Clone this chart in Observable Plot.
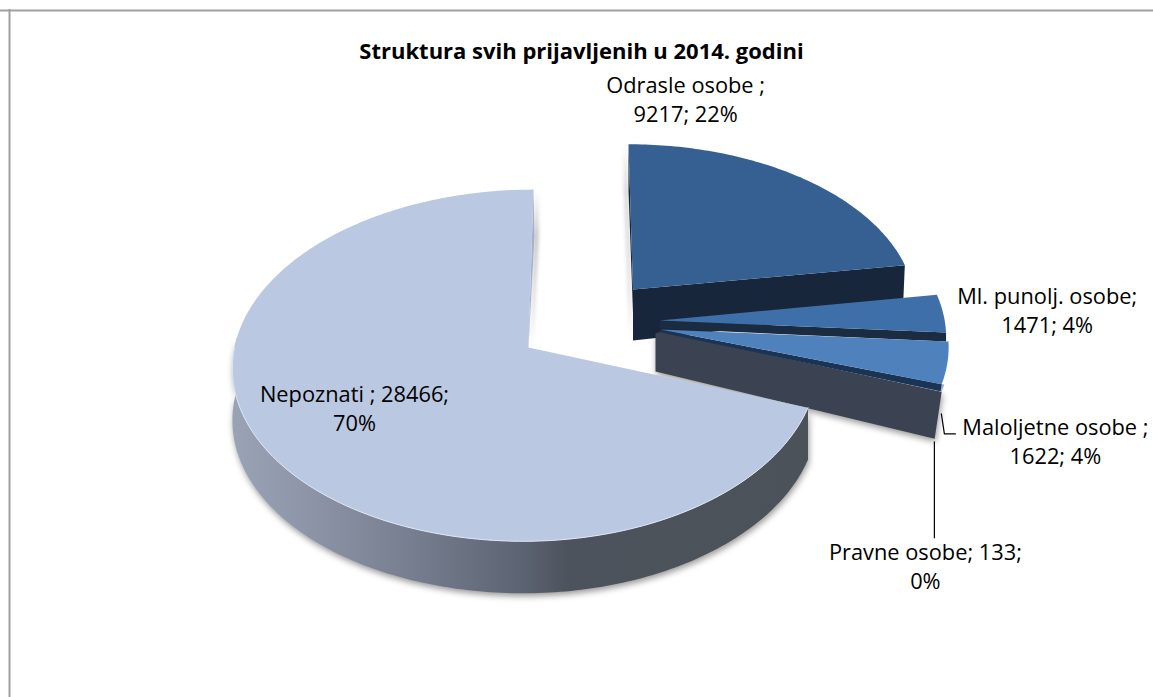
<!DOCTYPE html>
<html>
<head>
<meta charset="utf-8">
<script src="https://cdn.jsdelivr.net/npm/d3@7"></script>
<script src="https://cdn.jsdelivr.net/npm/@observablehq/plot@0.6"></script>
<style>html,body{margin:0;padding:0;background:#fff}svg{display:block}</style>
</head>
<body>
<div id="chart"></div>
<script>
const titleText = "Struktura svih prijavljenih u 2014. godini";
const categories = ["Odrasle osobe ", "Ml. punolj. osobe", "Maloljetne osobe ", "Pravne osobe", "Nepoznati "];
const values = [9217, 1471, 1622, 133, 28466];
const percents = [22, 4, 4, 0, 70];
const breakBeforePercent = [false, false, false, true, true];

const W = 1153, H = 697;
const FONT = "'Open Sans', 'Noto Sans', sans-serif";
// projection of the pie disc
const R = 294, S = 174, P = 0.102;
// per slice style: apex, scale, skew, wall depths, fills, label offset from rim
const sliceStyle = [
  {ax:632.5, ay:289, sx:.953, sxR:1, sy:.92, skew:4.5, top:"#366092", wall:"#17263b", dA:51, dR:46, rdx:-2, aox:0, aoy:0, lab:[-113,-76.5]},
  {ax:659, ay:320, sx:.97, sxR:1, sy:.97, skew:0, top:"#3f6fa8", wall:"#1a2b42", dA:8, dR:9, rdx:0, aox:0, aoy:0, lab:[104,-2]},
  {ax:660, ay:329, sx:.975, sxR:1, sy:.97, skew:0, top:"#4f81bd", wall:"#1c3454", dA:3, dR:7, rdx:-1, aox:0, aoy:0, lab:[108,80]},
  {ax:660, ay:331, sx:.98, sxR:1, sy:1, skew:0, top:"#95b3d7", wall:"#3b4252", dA:38, dR:47, rdx:-7, aox:-5, aoy:2, lab:[-17,178]},
  {ax:528, ay:347, sx:1, sxR:.98, sy:1, skew:-5, top:"#bac8e1", wall:"url(#sideGrad)", dA:46, dR:52, rdx:-1, aox:0, aoy:0, lab:[84,-45]}
];

const total = d3.sum(values);
const cum = d3.cumsum(values);
const slices = values.map((v, i) => {
  const a1 = cum[i] / total * 2 * Math.PI;
  const a0 = a1 - v / total * 2 * Math.PI;
  return {...sliceStyle[i], a0, a1, mid: (a0 + a1) / 2};
});

function proj(s, a, dy = 0) {
  const u = Math.sin(a), v = -Math.cos(a), w = 1 - P * v;
  return {x: s.ax + s.sx * (u > 0 ? s.sxR : 1) * R * u / w + s.skew * v, y: s.ay + s.sy * S * v / w + dy};
}
const apex = s => ({x: s.ax, y: s.ay});
function arc(s, a0, a1, dy = 0) {
  const n = Math.max(2, Math.ceil(Math.abs(a1 - a0) * 60));
  return d3.range(n + 1).map(k => proj(s, a0 + (a1 - a0) * k / n, dy));
}
const shift = (p, dx, dy) => ({x: p.x + dx, y: p.y + dy});
const poly = (pts, fill, extra = {}) => Plot.line(pts, {x: "x", y: "y", fill, stroke: "none", curve: "linear", ...extra});

const shadowDown = "drop-shadow(1px 3px 3px rgba(0,0,0,.4))";

function sliceMarks(s) {
  const a = apex(s), rim = proj(s, s.a1);
  const A = shift(a, s.aox, s.aoy);
  return [
    poly([A, rim, shift(rim, s.rdx, s.dR), shift(A, 0, s.dA)], s.wall),
    poly([a, ...arc(s, s.a0, s.a1)], s.top)
  ];
}

const [sO, sM, sL, sP, sN] = slices;
const oRim = proj(sO, 0);
const nRim = proj(sN, 2 * Math.PI);

// labels
const labelRows = slices.flatMap((s, i) => {
  const c = proj(s, s.mid);
  const line1 = breakBeforePercent[i] ? `${categories[i]}; ${values[i]};` : `${categories[i]};`;
  const line2 = breakBeforePercent[i] ? `${percents[i]}%` : `${values[i]}; ${percents[i]}%`;
  const x = c.x + s.lab[0], y = c.y + s.lab[1];
  return [{x, y: y - 14.5, t: line1}, {x, y: y + 14.5, t: line2}];
});

// leader lines, hung off the rim of their slices
const lRim = proj(sL, sL.mid), pRim = proj(sP, sP.mid);
const leaderL = [shift(lRim, -6, 51), shift(lRim, -3, 71), shift(lRim, 8, 71)];
const leaderP = [shift(pRim, -8, 52), shift(pRim, -8, 148)];

const defs = () => {
  const d = d3.create("svg:defs");
  const g = d.append("linearGradient").attr("id", "sideGrad")
    .attr("gradientUnits", "userSpaceOnUse").attr("x1", 233).attr("x2", 810).attr("y1", 0).attr("y2", 0);
  [[0, "#9aa3b6"], [.15, "#8b92a5"], [.3, "#787f90"], [.5, "#5c6372"], [.58, "#4d535c"], [1, "#4c5259"]]
    .forEach(([o, c]) => g.append("stop").attr("offset", o).attr("stop-color", c));
  return d.node();
};

const pA = shift(apex(sP), sP.aox, sP.aoy), pTip = proj(sP, sP.a1);

const plot = Plot.plot({
  width: W, height: H, margin: 0,
  style: {background: "#fff", fontFamily: FONT},
  x: {domain: [0, W], range: [0, W], axis: null},
  y: {domain: [0, H], range: [0, H], axis: null},
  marks: [
    defs,
    // chart border: top and left only reach the picture
    Plot.ruleY([10], {stroke: "#a0a0a0", strokeWidth: 2}),
    Plot.ruleX([9], {y1: 9, y2: H, stroke: "#a0a0a0", strokeWidth: 2}),

    // Odrasle
    poly([oRim, shift(oRim, 0, 46), shift(apex(sO), 1, 51), apex(sO)], "#17263b", {imageFilter: "drop-shadow(-3px 0 2px rgba(0,0,0,.5))"}),
    ...sliceMarks(sO),
    // Ml. punolj.
    ...sliceMarks(sM),
    // Pravne: its cut face is the large dark wall
    poly([pA, apex(sP), pTip, shift(pTip, sP.rdx, sP.dR), shift(pA, 0, sP.dA)], sP.wall, {imageFilter: shadowDown}),
    poly([apex(sP), ...arc(sP, sP.a0 - 0.02, sP.a1)], sP.top),
    // Maloljetne
    ...sliceMarks(sL),

    // leader lines
    Plot.line(leaderL, {x: "x", y: "y", stroke: "#000", strokeWidth: 1.2, curve: "linear"}),
    Plot.line(leaderP, {x: "x", y: "y", stroke: "#000", strokeWidth: 1.2, curve: "linear"}),

    // Nepoznati
    poly([nRim, shift(nRim, 1, 46), shift(apex(sN), 0, 0)], "#a4b2cd", {imageFilter: "drop-shadow(3px 1px 2px rgba(0,0,0,.45))"}),
    poly([...arc(sN, sN.a0, 1.52 * Math.PI), ...arc(sN, 1.52 * Math.PI, sN.a0, 52)], "url(#sideGrad)", {imageFilter: shadowDown}),
    poly([apex(sN), ...arc(sN, sN.a0, sN.a1)], sN.top),
    Plot.line(arc(sN, sN.a0, 1.5 * Math.PI), {x: "x", y: "y", stroke: "#dde6f6", strokeWidth: 1, curve: "linear"}),

    // text
    Plot.text([titleText], {x: [581], y: [51], text: d => d, fontSize: 22, fontWeight: 700, fill: "#000"}),
    Plot.text(labelRows, {x: "x", y: "y", text: "t", fontSize: 21.8, fill: "#000"})
  ]
});
document.getElementById("chart").append(plot);
</script>
</body>
</html>
